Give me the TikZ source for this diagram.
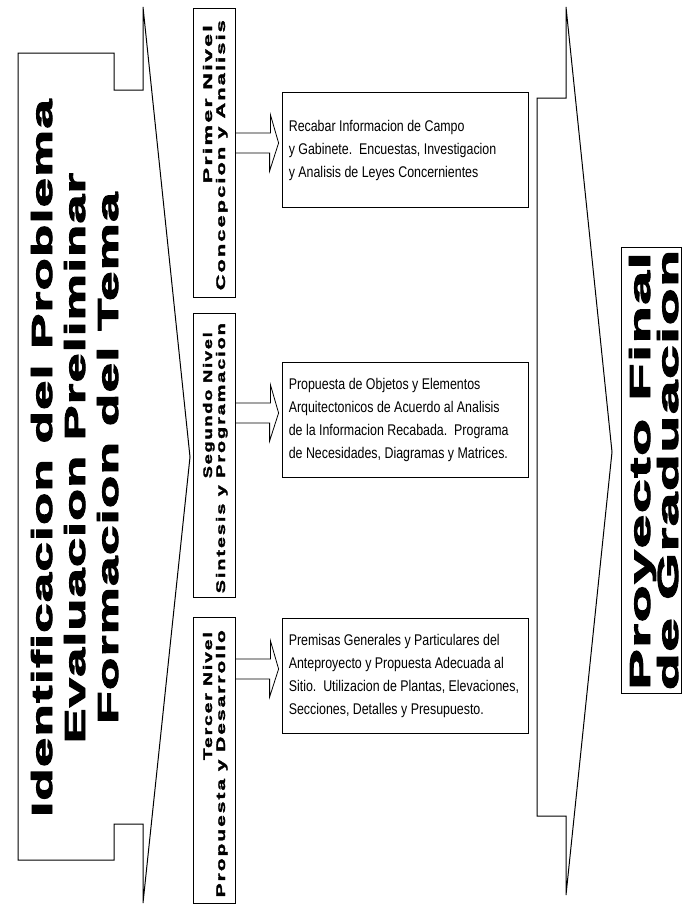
\documentclass[tikz,border=0pt]{standalone}
\usepackage{fontspec}
\usepackage{graphicx}
\setmainfont{Liberation Sans}
\newfontfamily\heavyfont[LetterSpace=3,BoldFeatures={FakeBold=3}]{Liberation Sans}
\newfontfamily\spacedfont[LetterSpace=10,BoldFeatures={FakeBold=2}]{Liberation Sans}
\newfontfamily\narrowfont[FakeStretch=0.8]{Liberation Sans}
\usetikzlibrary{positioning,calc}
\tikzset
{
    outline/.style   = {draw=black, line width=1pt, line join=miter},
    levelbox/.style  = {rectangle, draw=black, line width=1pt, minimum width=42pt, inner sep=0pt},
    infobox/.style   = {rectangle, draw=black, line width=0.8pt, minimum width=246pt, minimum height=115pt, inner sep=0pt},
    infotext/.style  = {align=left, anchor=west, inner sep=0pt, font=\narrowfont\fontsize{15.5}{23}\selectfont},
    bigtext/.style   = {rotate=90, anchor=base, inner sep=0pt, font=\heavyfont\bfseries\fontsize{29}{29}\selectfont},
    leveltext/.style = {rotate=90, anchor=base east, inner sep=0pt, font=\spacedfont\bfseries\fontsize{12.5}{12.5}\selectfont},
    fatarrow/.style  = {draw=black, line width=0.8pt, line join=miter}
}
\newcommand{\stretchto}[2]{\resizebox{#1}{\height}{#2}}

\begin{document}
\begin{tikzpicture}[x=1pt, y=-1pt]
    \useasboundingbox (0,0) rectangle (683,905);

    % big arrow on the left
    \draw[outline] (18,53) -- (114,53) -- (114,90) -- (143,90) -- (143,7) -- (190,457)
        -- (143,903) -- (143,824) -- (114,824) -- (114,860) -- (18,860) -- cycle;
    \node[bigtext] (ident) at (52,458) {\stretchto{717pt}{Identificacion del Problema}};
    \node[bigtext] (evalu) at (85,458) {\stretchto{570pt}{Evaluacion Preliminar}};
    \node[bigtext] (forma) at (118,458) {\stretchto{531pt}{Formacion del Tema}};

    % levels
    \node[levelbox, minimum height=289pt] (lvl1) at (214,152.5) {};
    \node[levelbox, minimum height=284pt] (lvl2) at (214,455) {};
    \node[levelbox, minimum height=286pt] (lvl3) at (214,760) {};

    \node[leveltext] (lvl1a) at (212,25) {\stretchto{158pt}{Primer Nivel}};
    \node[leveltext] (lvl1b) at (225,20) {\stretchto{270pt}{Concepcion y Analisis}};
    \node[leveltext] (lvl2a) at (212,332) {\stretchto{146pt}{Segundo Nivel}};
    \node[leveltext] (lvl2b) at (225,323) {\stretchto{270pt}{Sintesis y Programacion}};
    \node[leveltext] (lvl3a) at (212,632) {\stretchto{128pt}{Tercer Nivel}};
    \node[leveltext] (lvl3b) at (225,630) {\stretchto{267pt}{Propuesta y Desarrollo}};

    % descriptions
    \node[infobox] (info1) at (405,150) {};
    \node[infobox] (info2) at (405,420) {};
    \node[infobox] (info3) at (405,676) {};

    \node[infotext] (info1t) at ([xshift=7pt]info1.west)
        {Recabar Informacion de Campo\\y Gabinete.\ \ Encuestas, Investigacion\\y Analisis de Leyes Concernientes};
    \node[infotext] (info2t) at ([xshift=7pt]info2.west)
        {Propuesta de Objetos y Elementos\\Arquitectonicos de Acuerdo al Analisis\\de la Informacion Recabada.\ \ Programa\\de Necesidades, Diagramas y Matrices.};
    \node[infotext] (info3t) at ([xshift=7pt]info3.west)
        {Premisas Generales y Particulares del\\Anteproyecto y Propuesta Adecuada al\\Sitio.\ \ Utilizacion de Plantas, Elevaciones,\\Secciones, Detalles y Presupuesto.};

    \foreach \i in {1,2,3}
        \draw[fatarrow] ([yshift=17pt]lvl\i.east |- info\i.west) -- ++(35,0) -- ++(0,-18) -- ([xshift=-3pt,yshift=7pt]info\i.west)
            -- ++(-9,28) -- ++(0,-18) -- ([yshift=-3pt]lvl\i.east |- info\i.west);

    % big arrow on the right
    \draw[outline] (537,98) -- (566,98) -- (566,7) -- (612,452) -- (566,895) -- (566,816) -- (537,816) -- cycle;

    \node[rectangle, draw=black, line width=1pt, minimum width=60pt, minimum height=446pt, inner sep=0pt] (final) at (651,470) {};
    \node[bigtext] (final1) at (650,471) {\stretchto{437pt}{Proyecto Final}};
    \node[bigtext] (final2) at (678,470) {\stretchto{440pt}{de Graduacion}};
\end{tikzpicture}
\end{document}
